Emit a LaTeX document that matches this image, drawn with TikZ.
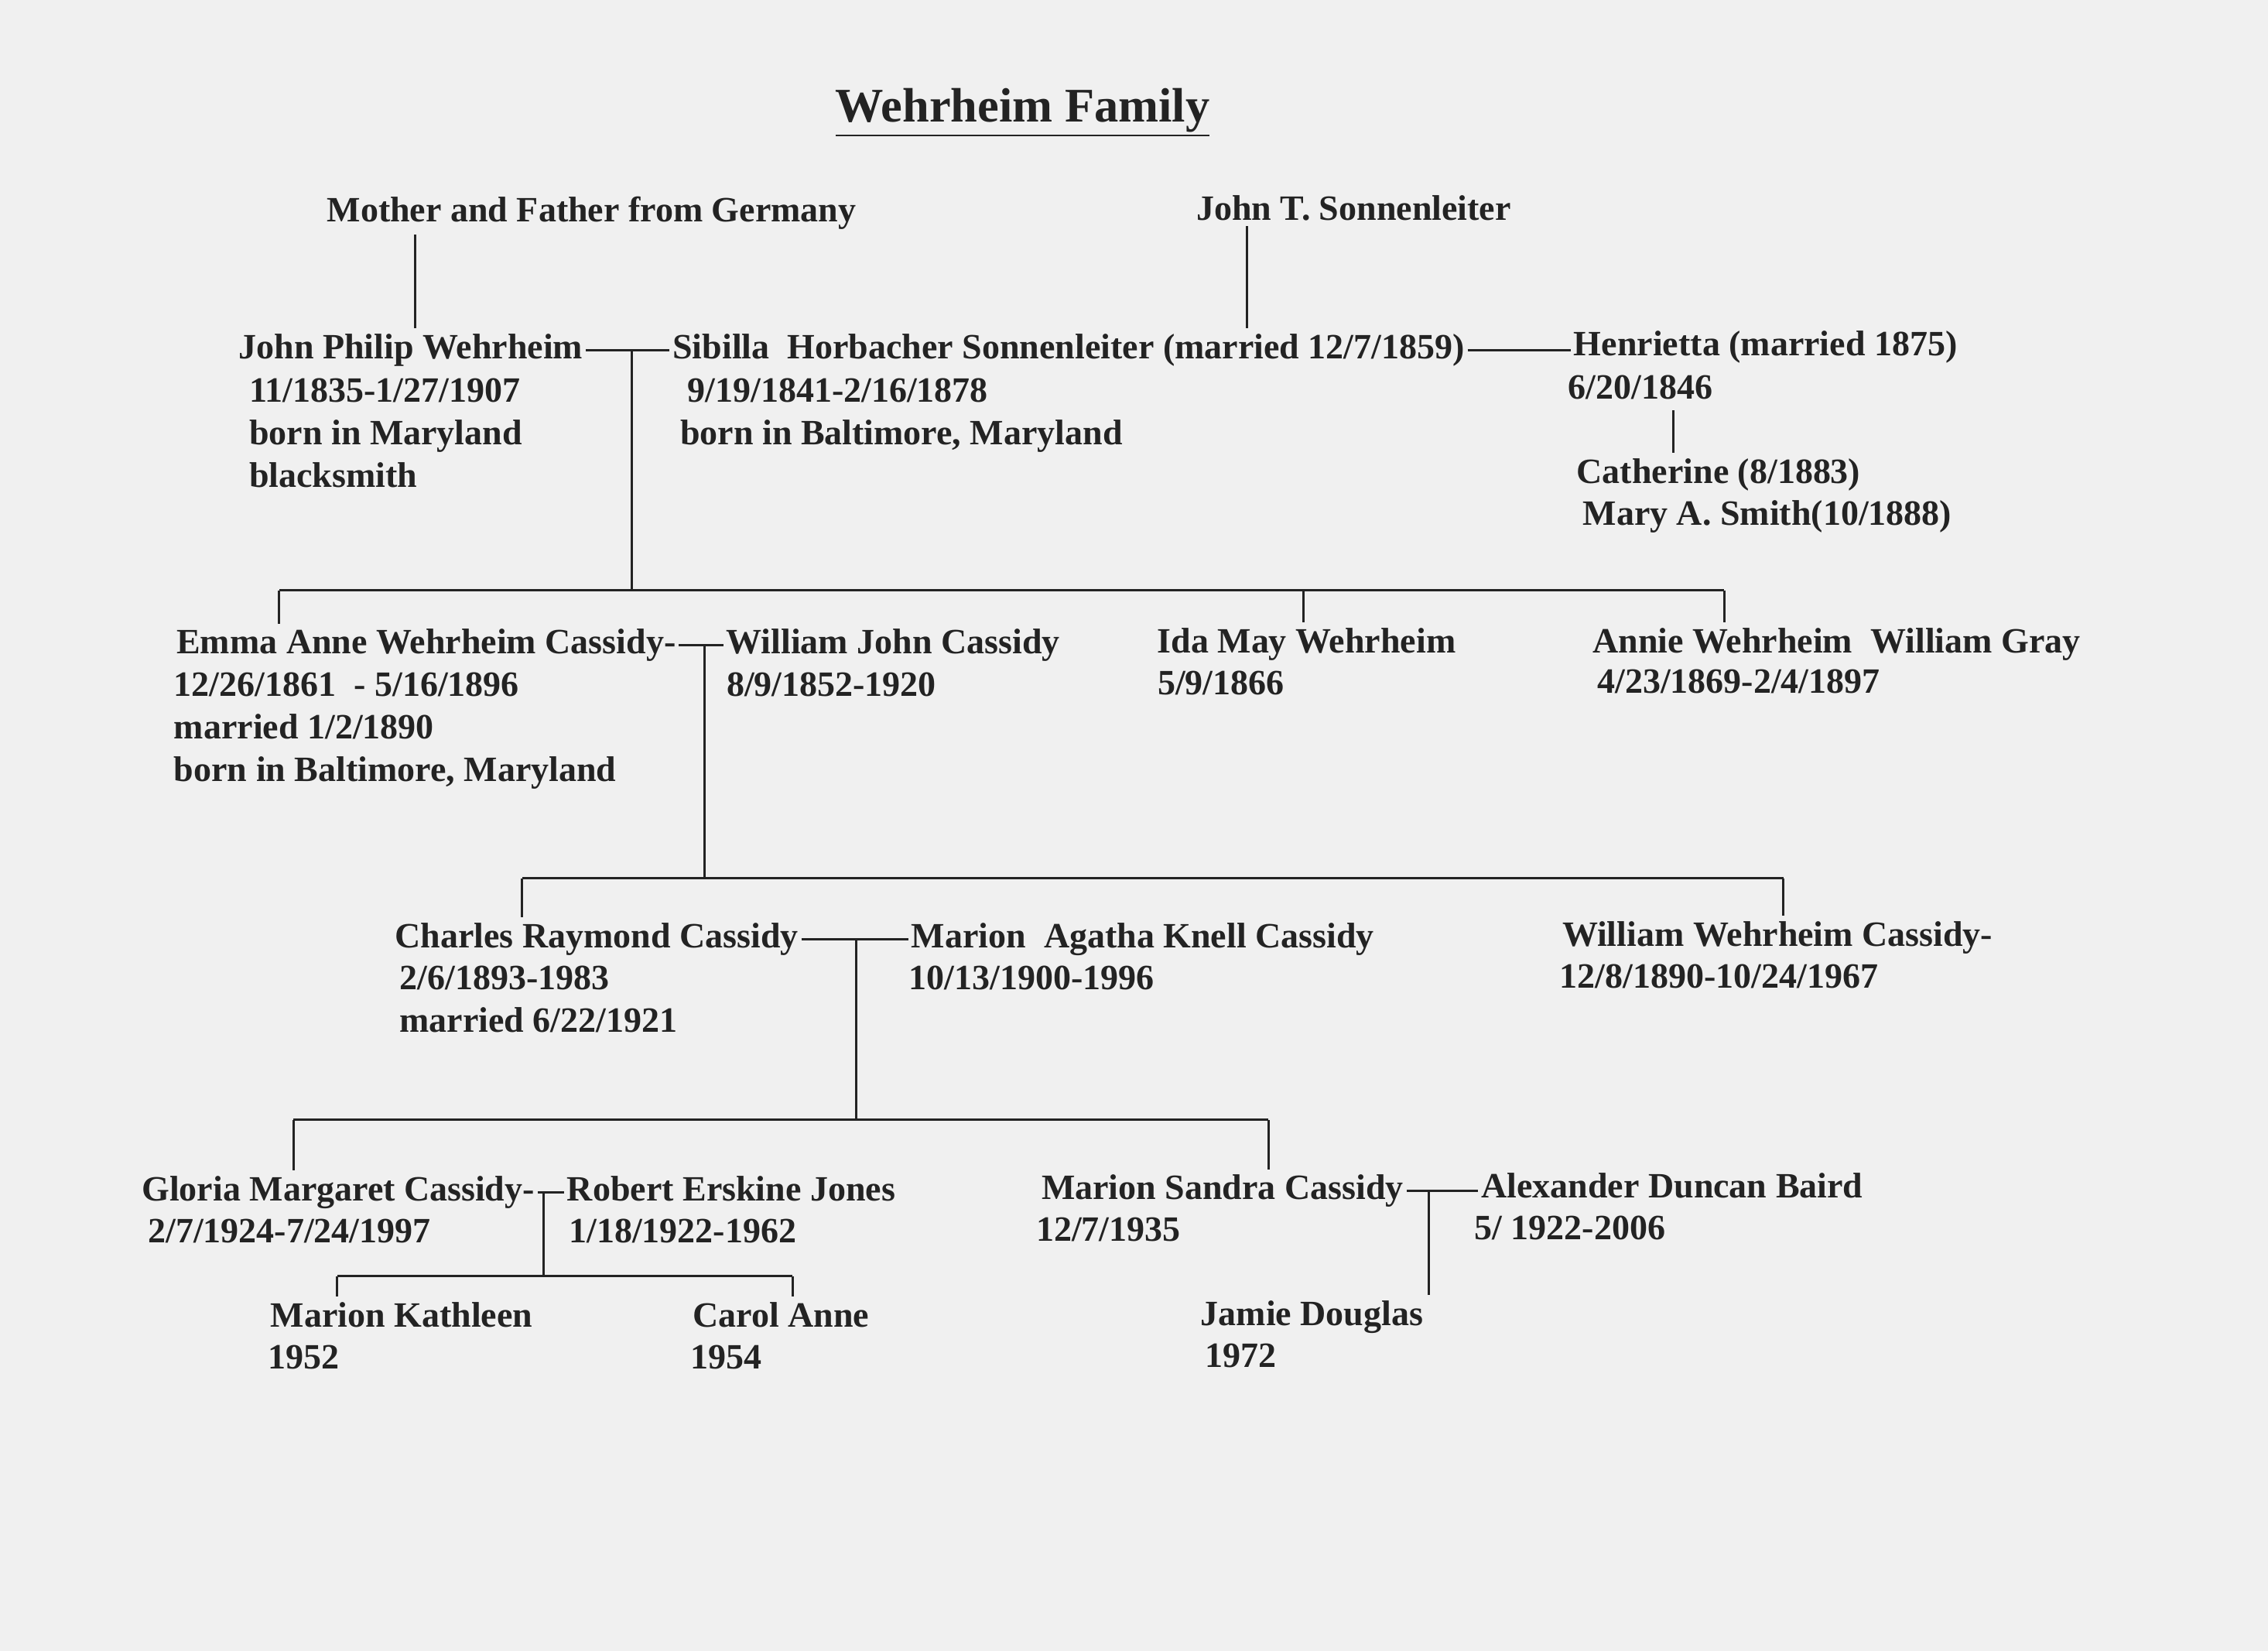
\documentclass[tikz,border=0pt]{standalone}
\usepackage{fontspec}
\setmainfont{Liberation Serif}
\definecolor{paper}{RGB}{240,240,240}
\definecolor{ink}{RGB}{35,35,35}
\begin{document}
\begin{tikzpicture}[
    heading/.style={anchor=base, inner sep=0pt, text=ink, font=\bfseries\fontsize{19}{22}\selectfont},
    person/.style={anchor=base west, inner xsep=1pt, inner ysep=2pt, text=ink, font=\bfseries\fontsize{14}{16.8}\selectfont},
    dates/.style={anchor=base west, inner sep=0pt, align=left, text=ink, font=\bfseries\fontsize{14}{16.8}\selectfont},
    link/.style={draw=ink, line width=0.9pt}]
    \fill[paper] (0,0) rectangle (31.36,-22.82);
    \useasboundingbox (0,0) rectangle (31.36,-22.82);

    \node[heading] (title) at (14.14,-1.68) {\underline{Wehrheim Family}};

    \node[person] (mfg) at (4.48,-3.06) {Mother and Father from Germany};
    \node[person] (jts) at (16.5,-3.04) {John T. Sonnenleiter};

    % multi-line dates sit on their last line
    \node[person] (jpw) at (3.26,-4.96) {John Philip Wehrheim};
    \node[dates] (jpwd) at (3.44,-6.74) {11/1835-1/27/1907\\born in Maryland\\blacksmith};
    \node[person] (sib) at (9.26,-4.96) {Sibilla\ \ Horbacher Sonnenleiter (married 12/7/1859)};
    \node[dates] (sibd) at (9.4,-6.15) {\hspace*{0.1cm}9/19/1841-2/16/1878\\born in Baltimore, Maryland};
    \node[person] (hen) at (21.72,-4.92) {Henrietta (married 1875)};
    \node[dates] (hend) at (21.68,-5.52) {6/20/1846};
    \node[person] (cat) at (21.76,-6.68) {Catherine (8/1883)};
    \node[dates] (catd) at (21.88,-7.26) {Mary A. Smith(10/1888)};

    \node[person] (emma) at (2.4,-9.04) {Emma Anne Wehrheim Cassidy-};
    \node[dates] (emmad) at (2.4,-10.8) {12/26/1861\ \ - 5/16/1896\\married 1/2/1890\\born in Baltimore, Maryland};
    \node[person] (wjc) at (10.0,-9.04) {William John Cassidy};
    \node[dates] (wjcd) at (10.04,-9.62) {8/9/1852-1920};
    \node[person] (ida) at (15.96,-9.02) {Ida May Wehrheim};
    \node[dates] (idad) at (16.0,-9.6) {5/9/1866};
    \node[person] (annie) at (21.98,-9.02) {Annie Wehrheim\ \ William Gray};
    \node[dates] (annied) at (22.08,-9.58) {4/23/1869-2/4/1897};

    \node[person] (crc) at (5.42,-13.1) {Charles Raymond Cassidy};
    \node[dates] (crcd) at (5.52,-14.27) {2/6/1893-1983\\married 6/22/1921};
    \node[person] (mak) at (12.56,-13.1) {Marion\ \ Agatha Knell Cassidy};
    \node[dates] (makd) at (12.56,-13.68) {10/13/1900-1996};
    \node[person] (wwc) at (21.56,-13.08) {William Wehrheim Cassidy-};
    \node[dates] (wwcd) at (21.56,-13.66) {12/8/1890-10/24/1967};

    \node[person] (gmc) at (1.92,-16.6) {Gloria Margaret Cassidy-};
    \node[dates] (gmcd) at (2.04,-17.18) {2/7/1924-7/24/1997};
    \node[person] (rej) at (7.8,-16.6) {Robert Erskine Jones};
    \node[dates] (rejd) at (7.86,-17.18) {1/18/1922-1962};
    \node[person] (msc) at (14.36,-16.58) {Marion Sandra Cassidy};
    \node[dates] (mscd) at (14.32,-17.16) {12/7/1935};
    \node[person] (adb) at (20.44,-16.56) {Alexander Duncan Baird};
    \node[dates] (adbd) at (20.38,-17.14) {5/ 1922-2006};

    \node[person] (mk) at (3.7,-18.34) {Marion Kathleen};
    \node[dates] (mkd) at (3.7,-18.92) {1952};
    \node[person] (ca) at (9.54,-18.34) {Carol Anne};
    \node[dates] (cad) at (9.54,-18.92) {1954};
    \node[person] (jd) at (16.56,-18.32) {Jamie Douglas};
    \node[dates] (jdd) at (16.66,-18.9) {1972};

    % parents
    \coordinate (up1) at (5.74,0);
    \coordinate (up2) at (17.24,0);
    \coordinate (up3) at (23.14,0);
    \draw[link] (up1 |- mfg.south) -- (up1 |- jpw.north);
    \draw[link] (up2 |- jts.south) -- (up2 |- sib.north);
    \draw[link] ([yshift=-4pt]up3 |- hend.south) -- (up3 |- cat.north);
    \draw[link] (jpw.east) -- (jpw.east -| sib.west);
    \draw[link] (sib.east) -- (sib.east -| hen.west);

    % marriages and children
    \coordinate (d1) at (8.74,0);
    \foreach \x/\n in {3.86/emma,18.02/ida,23.84/annie}
      \coordinate (t\n) at (\x,-8.16);
    \draw[link] (temma) -- (tannie);
    \foreach \n in {emma,ida,annie}
      \draw[link] (t\n) -- (t\n |- \n.north);
    \draw[link] (d1 |- jpw.east) -- (d1 |- temma);

    \draw[link] (emma.east) -- (emma.east -| wjc.west);
    \coordinate (d2) at (9.74,0);
    \foreach \x/\n in {7.22/crc,24.66/wwc}
      \coordinate (t\n) at (\x,-12.14);
    \draw[link] (tcrc) -- (twwc);
    \foreach \n in {crc,wwc}
      \draw[link] (t\n) -- (t\n |- \n.north);
    \draw[link] (d2 |- emma.east) -- (d2 |- tcrc);

    \draw[link] (crc.east) -- (crc.east -| mak.west);
    \coordinate (d3) at (11.84,0);
    \foreach \x/\n in {4.06/gmc,17.54/msc}
      \coordinate (t\n) at (\x,-15.48);
    \draw[link] (tgmc) -- (tmsc);
    \foreach \n in {gmc,msc}
      \draw[link] (t\n) -- (t\n |- \n.north);
    \draw[link] (d3 |- crc.east) -- (d3 |- tgmc);

    \draw[link] (gmc.east) -- (gmc.east -| rej.west);
    \coordinate (d4) at (7.52,0);
    \foreach \x/\n in {4.66/mk,10.96/ca}
      \coordinate (t\n) at (\x,-17.64);
    \draw[link] (tmk) -- (tca);
    \foreach \n in {mk,ca}
      \draw[link] (t\n) -- (t\n |- \n.north);
    \draw[link] (d4 |- gmc.east) -- (d4 |- tmk);

    \draw[link] (msc.east) -- (msc.east -| adb.west);
    \coordinate (d5) at (19.76,0);
    \draw[link] (d5 |- msc.east) -- (d5 |- jd.north);
\end{tikzpicture}
\end{document}
